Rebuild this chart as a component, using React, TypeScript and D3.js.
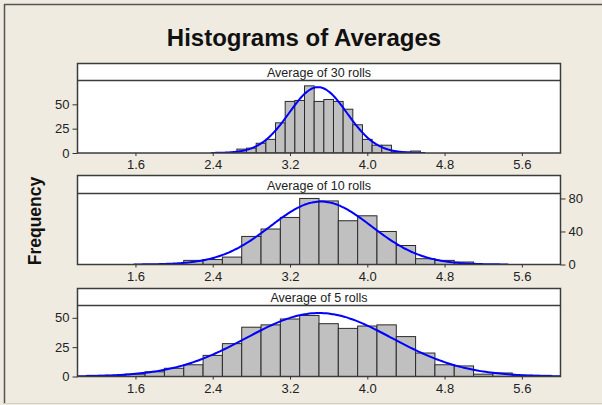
import React, { useEffect, useRef } from 'react';
import * as d3 from 'd3';

// bin midpoints and frequencies
const mids30 = [2.7, 2.8, 2.9, 3.0, 3.1, 3.2, 3.3, 3.4, 3.5, 3.6, 3.7, 3.8, 3.9, 4.0, 4.1, 4.2, 4.3, 4.4, 4.5];
const counts30 = [4, 5, 10, 14, 31, 53, 54, 69, 53, 55, 53, 45, 29, 14, 8, 8, 1, 1, 2];

const mids10 = [2.2, 2.4, 2.6, 2.8, 3.0, 3.2, 3.4, 3.6, 3.8, 4.0, 4.2, 4.4, 4.6, 4.8, 5.0];
const counts10 = [5, 6, 9, 34, 43, 57, 80, 77, 53, 59, 40, 23, 7, 5, 3];

const mids5 = [1.2, 1.4, 1.6, 1.8, 2.0, 2.2, 2.4, 2.6, 2.8, 3.0, 3.2, 3.4, 3.6, 3.8, 4.0, 4.2, 4.4, 4.6, 4.8, 5.0, 5.2, 5.4, 5.6, 5.8];
const counts5 = [1, 1, 2, 4, 7, 10, 18, 28, 42, 44, 49, 52, 45, 41, 43, 44, 34, 20, 10, 9, 2, 3, 1, 1];

const panelTitles = ['Average of 30 rolls', 'Average of 10 rolls', 'Average of 5 rolls'];
const binWidths = [0.1, 0.2, 0.2];
const fitMeans = [3.49, 3.52, 3.5];
const fitSds = [0.3, 0.524, 0.754];

const xTicks = [1.6, 2.4, 3.2, 4.0, 4.8, 5.6];
const yTicks30 = [0, 25, 50];
const yTicks10 = [0, 40, 80];
const yTicks5 = [0, 25, 50];

function App() {
  const svgRef = useRef<SVGSVGElement>(null);

  useEffect(() => {
    if (!svgRef.current) return;
    const width = 602;
    const height = 405;
    const bg = '#efebe1';
    const frame = '#3c3c3c';
    const font = '"Liberation Sans", Arial, sans-serif';

    const svg = d3.select(svgRef.current);
    svg.selectAll('*').remove();
    svg.attr('width', width).attr('height', height);

    svg.append('rect').attr('width', width).attr('height', height).attr('fill', bg);
    // outer border (left / top dark, bottom light)
    svg.append('line').attr('x1', 4.5).attr('x2', 4.5).attr('y1', 4).attr('y2', 404)
      .attr('stroke', '#555').attr('stroke-width', 1.5);
    svg.append('line').attr('x1', 4).attr('x2', width).attr('y1', 4.5).attr('y2', 4.5)
      .attr('stroke', '#555').attr('stroke-width', 1.5);
    svg.append('line').attr('x1', 4).attr('x2', width).attr('y1', 403.5).attr('y2', 403.5)
      .attr('stroke', '#d4d0c8').attr('stroke-width', 1);

    svg.append('text')
      .attr('x', 304).attr('y', 46)
      .attr('text-anchor', 'middle')
      .attr('font-family', font).attr('font-weight', 'bold').attr('font-size', 24)
      .attr('fill', '#111')
      .text('Histograms of Averages');

    svg.append('text')
      .attr('transform', 'translate(41,221) rotate(-90)')
      .attr('text-anchor', 'middle')
      .attr('font-family', font).attr('font-weight', 'bold').attr('font-size', 17.5)
      .attr('fill', '#111')
      .text('Frequency');

    const x = d3.scaleLinear().domain([1, 6]).range([77.5, 560.5]);

    const layout = [
      { top: 63.5, strip: 80.5, bottom: 153, yMax: 74.5, side: 'left' },
      { top: 175.5, strip: 193.5, bottom: 264.5, yMax: 86, side: 'right' },
      { top: 288.5, strip: 305.5, bottom: 376.5, yMax: 60.5, side: 'left' },
    ];
    const series = [
      { mids: mids30, counts: counts30, ticks: yTicks30 },
      { mids: mids10, counts: counts10, ticks: yTicks10 },
      { mids: mids5, counts: counts5, ticks: yTicks5 },
    ];

    layout.forEach((p, i) => {
      const { mids, counts, ticks } = series[i];
      const bw = binWidths[i];
      const g = svg.append('g');
      const y = d3.scaleLinear().domain([0, p.yMax]).range([p.bottom, p.strip]);
      const [x0, x1] = x.range();

      // header strip
      g.append('rect')
        .attr('x', x0).attr('y', p.top)
        .attr('width', x1 - x0).attr('height', p.strip - p.top)
        .attr('fill', 'white');
      g.append('text')
        .attr('x', (x0 + x1) / 2).attr('y', p.strip - 4)
        .attr('text-anchor', 'middle')
        .attr('font-family', font).attr('font-size', 12.5).attr('fill', '#222')
        .text(panelTitles[i]);

      // plot area
      g.append('rect')
        .attr('x', x0).attr('y', p.strip)
        .attr('width', x1 - x0).attr('height', p.bottom - p.strip)
        .attr('fill', 'white');

      const clipId = `clip${i}`;
      g.append('clipPath').attr('id', clipId)
        .append('rect')
        .attr('x', x0).attr('y', p.strip)
        .attr('width', x1 - x0).attr('height', p.bottom - p.strip);

      const plot = g.append('g').attr('clip-path', `url(#${clipId})`);

      plot.selectAll('rect.bar')
        .data(mids.map((m, k) => ({ m, c: counts[k] })))
        .join('rect')
        .attr('class', 'bar')
        .attr('x', d => x(d.m - bw / 2))
        .attr('width', d => x(d.m + bw / 2) - x(d.m - bw / 2))
        .attr('y', d => y(d.c))
        .attr('height', d => p.bottom - y(d.c))
        .attr('fill', '#c0c0c0')
        .attr('stroke', '#2a2a2a')
        .attr('stroke-width', 1);

      // fitted normal curve
      const n = d3.sum(counts);
      const mu = fitMeans[i];
      const sd = fitSds[i];
      const lo = Math.max(1, mu - 3.7 * sd);
      const hi = Math.min(6, mu + 3.7 * sd);
      const pts = d3.range(lo, hi + 0.001, (hi - lo) / 200).map(v => [
        v,
        (n * bw) / (sd * Math.sqrt(2 * Math.PI)) * Math.exp(-0.5 * ((v - mu) / sd) ** 2),
      ]);
      plot.append('path')
        .attr('d', d3.line().x(d => x(d[0])).y(d => y(d[1])).curve(d3.curveBasis)(pts as [number, number][]))
        .attr('fill', 'none')
        .attr('stroke', '#0000ff')
        .attr('stroke-width', 2);

      // frame
      g.append('rect')
        .attr('x', x0).attr('y', p.top)
        .attr('width', x1 - x0).attr('height', p.bottom - p.top)
        .attr('fill', 'none').attr('stroke', frame).attr('stroke-width', 1.5);
      g.append('line')
        .attr('x1', x0).attr('x2', x1)
        .attr('y1', p.strip).attr('y2', p.strip)
        .attr('stroke', frame).attr('stroke-width', 1.5);

      // x axis
      const xAxis = g.append('g').attr('transform', `translate(0,${p.bottom})`)
        .call(d3.axisBottom(x).tickValues(xTicks).tickFormat(d3.format('.1f')).tickSize(3).tickPadding(4));
      xAxis.select('.domain').remove();
      xAxis.selectAll('line').attr('stroke', '#333');
      xAxis.selectAll('text').attr('font-family', font).attr('font-size', 13).attr('fill', '#222');

      // y axis
      const isLeft = p.side === 'left';
      const yAxisGen = isLeft ? d3.axisLeft(y) : d3.axisRight(y);
      const yAxis = g.append('g')
        .attr('transform', `translate(${isLeft ? x0 : x1},0)`)
        .call(yAxisGen.tickValues(ticks).tickSize(5).tickPadding(3));
      yAxis.select('.domain').remove();
      yAxis.selectAll('line').attr('stroke', '#333');
      yAxis.selectAll('text').attr('font-family', font).attr('font-size', 13).attr('fill', '#222');
    });
  }, []);

  return (
    <div style={{ position: 'absolute', left: 0, top: 0 }}>
      <svg ref={svgRef} style={{ display: 'block' }}></svg>
    </div>
  );
}

export default App;
